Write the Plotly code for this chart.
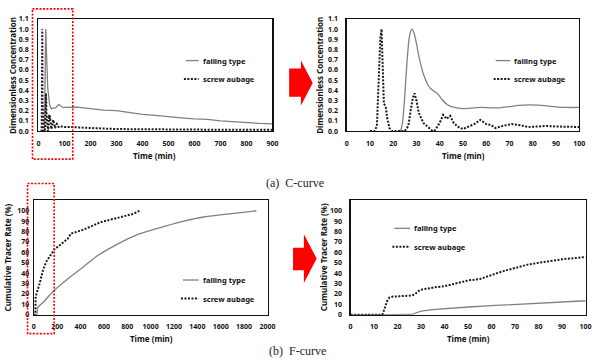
import plotly.graph_objects as go

# ---------------- data ----------------
# C-curve, detail 0-100 min
c_time_falling = [22, 23, 24, 25, 26, 27, 28, 29, 30, 31, 32, 33, 34, 35, 36, 37, 38, 39, 40, 41, 42, 43, 44,
                  46, 48, 50, 52, 55, 58, 62, 66, 70, 74, 78, 82, 86, 90, 94, 100]
c_falling = [0.0, 0.0, 0.08, 0.35, 0.70, 0.93, 1.0, 0.96, 0.86, 0.74, 0.64, 0.56, 0.50, 0.45, 0.42, 0.40, 0.385,
             0.37, 0.34, 0.31, 0.285, 0.265, 0.25, 0.235, 0.225, 0.22, 0.222, 0.228, 0.232, 0.228, 0.228, 0.24,
             0.252, 0.258, 0.255, 0.248, 0.238, 0.232, 0.232]
c_time_screw = [10, 12, 13, 13.8, 14.5, 15, 15.5, 16, 16.8, 17.5, 18.4, 19.5, 25, 26.5, 27.5, 28.5, 29.2, 30, 31,
                33, 35, 37, 38, 40, 41.5, 43, 44.5, 46, 48, 50, 52, 55, 57.5, 60, 62, 64, 67, 71, 74, 78, 82,
                86, 90, 95, 100]
c_screw = [0.0, 0.0, 0.05, 0.5, 0.92, 1.0, 0.6, 0.27, 0.24, 0.12, 0.03, 0.0, 0.0, 0.05, 0.2, 0.33, 0.37, 0.3,
           0.18, 0.08, 0.04, 0.0, 0.01, 0.08, 0.16, 0.12, 0.15, 0.08, 0.04, 0.02, 0.04, 0.07, 0.11, 0.07, 0.06,
           0.03, 0.05, 0.07, 0.06, 0.04, 0.045, 0.05, 0.045, 0.04, 0.04]
# C-curve, long tail 100-900 min
c_time_tail = [120, 150, 200, 250, 300, 350, 400, 450, 500, 550, 600, 650, 700, 750, 800, 850, 900]
c_falling_tail = [0.235, 0.235, 0.22, 0.205, 0.2, 0.18, 0.165, 0.155, 0.14, 0.13, 0.12, 0.115, 0.1, 0.09,
                  0.085, 0.075, 0.07]
c_screw_tail = [0.04, 0.035, 0.03, 0.025, 0.02, 0.018, 0.018, 0.017, 0.016, 0.015, 0.015, 0.014, 0.014,
                0.013, 0.013, 0.012, 0.012]

# F-curve, full range 0-2000 min
f_time_falling = [0, 25, 34, 90, 160, 285, 424, 535, 701, 896, 1118, 1285, 1452, 1675, 1905]
f_falling = [0, 0, 7, 13, 22, 34, 46, 56, 67, 77.5, 85, 90, 94, 97, 100]
f_time_screw = [0, 13, 16, 22, 50, 79, 107, 149, 177, 219, 290, 318, 430, 571, 712, 852, 905]
f_screw = [0, 0, 16, 19.7, 30, 43, 51, 59, 63, 66.5, 73, 78, 82, 89, 93, 97, 100]

# F-curve, detail 0-100 min
fd_time_falling = [0, 25, 26, 28, 30, 35, 40, 50, 60, 70, 80, 90, 100]
fd_falling = [0, 0, 0.3, 2, 3.5, 5, 6, 7.5, 8.8, 10, 11, 12, 13.5]
fd_time_screw = [0, 13.5, 14.5, 15.5, 16.5, 18, 22, 26, 27.5, 29, 30.5, 33, 36, 40, 45, 50, 55, 60, 65, 70,
                 75, 80, 85, 90, 95, 100]
fd_screw = [0, 0, 6, 13, 16.5, 17.5, 18, 18.5, 20, 23, 24.4, 25.5, 26.5, 27.5, 30.6, 33, 34.4, 38.4, 42, 45,
            48, 50, 52, 53.4, 54.4, 55.6]

c_ticks = [0.0, 0.1, 0.2, 0.3, 0.4, 0.5, 0.6, 0.7, 0.8, 0.9, 1.0, 1.1]
f_ticks = [0, 10, 20, 30, 40, 50, 60, 70, 80, 90, 100]

names = ["falling type", "screw aubage"]

# ---------------- figure ----------------
W, H = 600, 363


def px(x):
    return x / W


def py(y):
    return 1 - y / H


solid = dict(color="#808080", width=1.3)
dotted = dict(color="#1a1a1a", width=2, dash="2px,1.5px")

fig = go.Figure()
# top-left C-curve (0-900)
fig.add_trace(go.Scatter(x=c_time_falling + c_time_tail, y=c_falling + c_falling_tail, mode="lines",
                         line=solid, xaxis="x", yaxis="y", name=names[0], showlegend=False))
fig.add_trace(go.Scatter(x=c_time_screw + c_time_tail, y=c_screw + c_screw_tail, mode="lines",
                         line=dotted, xaxis="x", yaxis="y", name=names[1], showlegend=False))
# top-right C-curve detail
fig.add_trace(go.Scatter(x=c_time_falling, y=c_falling, mode="lines",
                         line=dict(solid, shape="spline", smoothing=0.6),
                         xaxis="x2", yaxis="y2", name=names[0], showlegend=False))
fig.add_trace(go.Scatter(x=c_time_screw, y=c_screw, mode="lines", line=dotted,
                         xaxis="x2", yaxis="y2", name=names[1], showlegend=False))
# bottom-left F-curve
fig.add_trace(go.Scatter(x=f_time_falling, y=f_falling, mode="lines",
                         line=dict(solid, shape="spline", smoothing=0.5),
                         xaxis="x3", yaxis="y3", name=names[0], showlegend=False))
fig.add_trace(go.Scatter(x=f_time_screw, y=f_screw, mode="lines", line=dotted,
                         xaxis="x3", yaxis="y3", name=names[1], showlegend=False))
# bottom-right F-curve detail
fig.add_trace(go.Scatter(x=fd_time_falling, y=fd_falling, mode="lines", line=solid,
                         xaxis="x4", yaxis="y4", name=names[0], showlegend=False))
fig.add_trace(go.Scatter(x=fd_time_screw, y=fd_screw, mode="lines", line=dotted,
                         xaxis="x4", yaxis="y4", name=names[1], showlegend=False))

tickfont = dict(family="Noto Sans", size=7, color="#111", weight="bold")


def xax(domain, rng, dtick, anchor):
    return dict(domain=domain, range=rng, dtick=dtick, tick0=0, anchor=anchor, showgrid=False, zeroline=False,
                showline=True, linecolor="#111", linewidth=1.2, mirror=True, ticks="outside", ticklen=5,
                tickcolor="rgba(0,0,0,0)", tickfont=tickfont, ticklabeloverflow="allow")


def yax(domain, rng, tickvals, fmt, anchor, standoff):
    return dict(domain=domain, range=rng, tickvals=tickvals, tickformat=fmt, anchor=anchor, showgrid=False,
                zeroline=False, showline=True, linecolor="#111", linewidth=1.2, mirror=True, ticks="outside",
                ticklen=standoff, tickcolor="rgba(0,0,0,0)", tickfont=tickfont, ticklabeloverflow="allow")


top_y = [py(129.3), py(14.3)]
bot_y = [py(317.7), py(200.3)]

fig.update_layout(
    width=W, height=H, margin=dict(l=0, r=0, t=0, b=0),
    paper_bgcolor="white", plot_bgcolor="white", showlegend=False,
    xaxis=xax([px(37), px(275)], [0, 900], 100, "y"),
    yaxis=yax(top_y, [0, 1.1], c_ticks, ".1f", "x", 7),
    xaxis2=xax([px(350.5), px(587)], [0, 100], 10, "y2"),
    yaxis2=yax(top_y, [0, 1.1], c_ticks, ".1f", "x2", 6),
    xaxis3=xax([px(32.3), px(270)], [0, 2000], 200, "y3"),
    yaxis3=yax(bot_y, [0, 110], f_ticks, "d", "x3", 2),
    xaxis4=xax([px(354.5), px(593.5)], [0, 100], 10, "y4"),
    yaxis4=yax(bot_y, [0, 110], f_ticks, "d", "x4", 6),
)

shapes = []
annotations = []
title_font = dict(family="Noto Sans", size=8, color="#111", weight="bold")
legend_font = dict(family="Noto Sans", size=7.5, color="#111", weight="bold")

# axis titles
for (x, y) in [(155, 154), (469, 154), (152, 342), (474, 342)]:
    annotations.append(dict(x=px(x), y=py(y), xref="paper", yref="paper", text="Time (min)", showarrow=False,
                            font=title_font, xanchor="center", yanchor="middle"))
for (x, y, t) in [(10, 72, "Dimensionless Concentration"), (323, 72, "Dimensionless Concentration"),
                  (6, 259, "Cumulative Tracer Rate (%)"), (327, 259, "Cumulative Tracer Rate (%)")]:
    annotations.append(dict(x=px(x), y=py(y), xref="paper", yref="paper", text=t, showarrow=False,
                            font=title_font, textangle=-90, xanchor="center", yanchor="middle"))

# legends (line sample + text)
for (x0, x1, tx, y1, y2) in [(187, 200, 202, 57, 76), (502, 517, 519, 57, 76),
                             (184, 200, 202, 282, 301), (399, 415, 417, 229, 248)]:
    shapes.append(dict(type="line", xref="paper", yref="paper", x0=px(x0), x1=px(x1), y0=py(y1), y1=py(y1),
                       line=dict(color="#808080", width=1.3)))
    shapes.append(dict(type="line", xref="paper", yref="paper", x0=px(x0 - 2), x1=px(x1), y0=py(y2), y1=py(y2),
                       line=dict(color="#1a1a1a", width=2, dash="2px,1.5px")))
    annotations.append(dict(x=px(tx), y=py(y1), xref="paper", yref="paper", text=names[0], showarrow=False,
                            font=legend_font, xanchor="left", yanchor="middle"))
    annotations.append(dict(x=px(tx), y=py(y2), xref="paper", yref="paper", text=names[1], showarrow=False,
                            font=legend_font, xanchor="left", yanchor="middle"))

# red dashed zoom boxes
for (x0, y0, x1, y1) in [(31, 4, 72, 158), (26, 183, 53, 337)]:
    shapes.append(dict(type="rect", xref="paper", yref="paper", x0=px(x0), x1=px(x1), y0=py(y0), y1=py(y1),
                       line=dict(color="#ff0000", width=1.6, dash="2px,1.5px")))

# red arrows
for (rx0, rx1, ry0, ry1, ty0, ty1, tip) in [(292, 304, 65, 94, 57, 103, 316),
                                            (296, 307, 249, 272, 235, 285, 320)]:
    ym = (ty0 + ty1) / 2
    pts = [(rx0, ry0), (rx1, ry0), (rx1, ty0), (tip, ym), (rx1, ty1), (rx1, ry1), (rx0, ry1)]
    ppts = [(px(x), py(y)) for x, y in pts]
    shapes.append(dict(type="path", xref="paper", yref="paper",
                       path="M " + " L ".join(f"{a},{b}" for a, b in ppts) + " Z",
                       fillcolor="#ff0000", line=dict(width=0)))

# captions
cap_font = dict(family="Liberation Serif", size=12, color="#222")
annotations.append(dict(x=px(298), y=py(183), xref="paper", yref="paper", text="(a)  C-curve", showarrow=False,
                        font=cap_font, xanchor="center", yanchor="middle"))
annotations.append(dict(x=px(300), y=py(355), xref="paper", yref="paper", text="(b)  F-curve", showarrow=False,
                        font=cap_font, xanchor="center", yanchor="middle"))

fig.update_layout(shapes=shapes, annotations=annotations)
fig.write_html("out.html",
               config={"displayModeBar": False, "staticPlot": True},
               post_script="document.body.style.margin='0';document.body.style.padding='0';"
                           "document.body.style.overflow='hidden';")
